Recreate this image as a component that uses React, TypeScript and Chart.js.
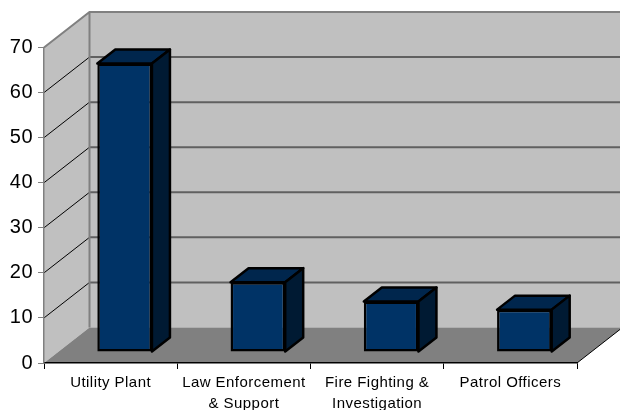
import React, { useEffect, useRef } from "react";
import { Chart, registerables } from "chart.js";

Chart.register(...registerables);

const categories = [
  "Utility Plant",
  ["Law Enforcement", "& Support"],
  ["Fire Fighting &", "Investigation"],
  "Patrol Officers",
];
const seriesValues = [64, 15.5, 11.2, 9.4];
const yTicks = [0, 10, 20, 30, 40, 50, 60, 70];

const WALL_DX = 45.5;
const WALL_DY = -35.5;
const BAR_DX = 14;
const BAR_DY = -11;
const DEPTH_DX = 18;
const DEPTH_DY = -14;

const scene3d = {
  id: "scene3d",
  beforeDraw(chart: any) {
    const { ctx, chartArea: a, scales } = chart;
    const y = scales.y;
    const L = a.left, R = a.right, T = a.top, B = a.bottom;
    ctx.letterSpacing = "0.45px";
    ctx.save();
    // back wall
    ctx.fillStyle = "#c0c0c0";
    ctx.fillRect(L + WALL_DX, T + WALL_DY, R - L + 10, B - T);
    // left wall
    ctx.beginPath();
    ctx.moveTo(L, T);
    ctx.lineTo(L + WALL_DX, T + WALL_DY);
    ctx.lineTo(L + WALL_DX, B + WALL_DY);
    ctx.lineTo(L, B);
    ctx.closePath();
    ctx.fill();
    // floor
    ctx.fillStyle = "#808080";
    ctx.beginPath();
    ctx.moveTo(L, B);
    ctx.lineTo(L + WALL_DX, B + WALL_DY);
    ctx.lineTo(R + WALL_DX, B + WALL_DY);
    ctx.lineTo(R, B);
    ctx.closePath();
    ctx.fill();
    // grid lines on both walls
    for (const v of yTicks) {
      const py = y.getPixelForValue(v);
      if (v > 0 && v < 70) {
        ctx.strokeStyle = "#000000";
        ctx.lineWidth = 1;
        ctx.beginPath();
        ctx.moveTo(L, py);
        ctx.lineTo(L + WALL_DX, py + WALL_DY);
        ctx.stroke();
        ctx.strokeStyle = "#606060";
        ctx.lineWidth = 2;
        ctx.beginPath();
        ctx.moveTo(L + WALL_DX, py + WALL_DY);
        ctx.lineTo(R + WALL_DX, py + WALL_DY);
        ctx.stroke();
      }
    }
    // wall frame
    ctx.strokeStyle = "#808080";
    ctx.lineWidth = 2;
    ctx.beginPath();
    ctx.moveTo(L, T);
    ctx.lineTo(L + WALL_DX, T + WALL_DY);
    ctx.lineTo(R + WALL_DX, T + WALL_DY);
    ctx.moveTo(L + WALL_DX, T + WALL_DY);
    ctx.lineTo(L + WALL_DX, B + WALL_DY);
    ctx.stroke();
    // floor front-right edge
    ctx.strokeStyle = "#000000";
    ctx.lineWidth = 1;
    ctx.beginPath();
    ctx.moveTo(R, B);
    ctx.lineTo(R + WALL_DX, B + WALL_DY);
    ctx.stroke();
    ctx.restore();
  },
  beforeDatasetDraw(chart: any, args: any) {
    const { ctx } = chart;
    ctx.save();
    ctx.translate(BAR_DX, BAR_DY);
    for (const el of chart.getDatasetMeta(args.index).data) {
      const hw = el.width / 2;
      const l = el.x - hw, r = el.x + hw, t = el.y, b = el.base;
      ctx.strokeStyle = "#000000";
      ctx.lineWidth = 2.5;
      ctx.lineJoin = "round";
      ctx.fillStyle = "#00264d";
      ctx.beginPath();
      ctx.moveTo(l, t);
      ctx.lineTo(l + DEPTH_DX, t + DEPTH_DY);
      ctx.lineTo(r + DEPTH_DX, t + DEPTH_DY);
      ctx.lineTo(r, t);
      ctx.closePath();
      ctx.fill();
      ctx.stroke();
      ctx.fillStyle = "#001a33";
      ctx.beginPath();
      ctx.moveTo(r, t);
      ctx.lineTo(r + DEPTH_DX, t + DEPTH_DY);
      ctx.lineTo(r + DEPTH_DX, b + DEPTH_DY);
      ctx.lineTo(r, b);
      ctx.closePath();
      ctx.fill();
      ctx.stroke();
    }
  },
  afterDatasetDraw(chart: any) {
    chart.ctx.restore();
  },
};

export default function App() {
  const ref = useRef<HTMLCanvasElement>(null);
  useEffect(() => {
    document.body.style.margin = "0";
    const chart = new Chart(ref.current!, {
      type: "bar",
      data: {
        labels: categories as any,
        datasets: [
          {
            data: seriesValues,
            backgroundColor: "#003366",
            borderColor: "#000000",
            borderWidth: 2.5,
            borderSkipped: false,
            barPercentage: 0.41,
            categoryPercentage: 1,
          },
        ],
      },
      plugins: [scene3d],
      options: {
        responsive: false,
        animation: false,
        layout: { padding: { top: 47.5, right: 43, left: 0, bottom: 0 } },
        plugins: { legend: { display: false }, tooltip: { enabled: false } },
        scales: {
          x: {
            afterFit: (s: any) => { s.height = 47; },
            grid: {
              drawOnChartArea: false,
              drawTicks: true,
              tickLength: 6,
              color: "#000000",
            },
            border: { color: "#000000", width: 1.5 },
            ticks: {
              color: "#000000",
              maxRotation: 0,
              autoSkip: false,
              padding: 3,
              font: { family: "Liberation Sans", size: 15, lineHeight: 1.4 },
            },
          },
          y: {
            min: 0,
            max: 70,
            afterFit: (s: any) => { s.width = 44; },
            grid: {
              drawOnChartArea: false,
              drawTicks: true,
              tickLength: 6,
              color: "#808080",
            },
            border: { color: "#808080", width: 1.5 },
            ticks: {
              stepSize: 10,
              color: "#000000",
              padding: 5,
              font: { family: "Liberation Sans", size: 20 },
            },
          },
        },
      },
    });
    return () => chart.destroy();
  }, []);
  return <canvas ref={ref} width={620} height={410} style={{ display: "block" }} />;
}
